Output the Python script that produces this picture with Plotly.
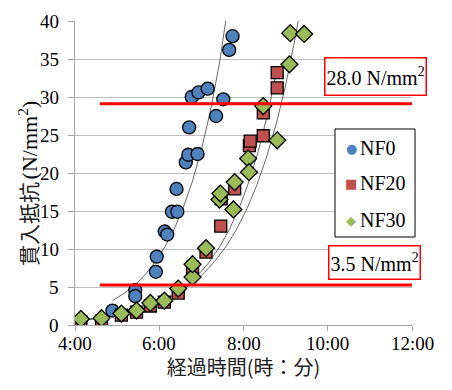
import numpy as np
import plotly.graph_objects as go

# ---- data (elapsed time in decimal hours, penetration resistance N/mm2) ----
nf0_t = [4.89, 5.43, 5.43, 5.92, 5.94, 6.13, 6.19, 6.30, 6.43, 6.41, 6.63, 6.69, 6.91,
         6.71, 6.77, 6.93, 7.15, 7.35, 7.52, 7.66, 7.74]
nf0_v = [1.9, 4.6, 3.8, 7.0, 9.0, 12.3, 11.9, 14.9, 14.9, 17.9, 21.4, 22.4, 22.5,
         26.0, 30.0, 30.6, 31.1, 27.5, 29.7, 36.2, 38.0]

nf20_t = [4.14, 4.63, 5.10, 5.46, 5.79, 6.12, 6.45, 6.79, 7.11, 7.46, 7.47, 7.79,
          8.14, 8.16, 8.47, 8.47, 8.80, 8.80]
nf20_v = [0.4, 0.5, 1.3, 1.7, 2.5, 3.0, 4.2, 7.6, 9.6, 13.0, 16.6, 17.9,
          23.6, 24.2, 24.9, 27.9, 31.2, 33.2]

nf30_t = [4.14, 4.63, 5.10, 5.46, 5.79, 6.12, 6.45, 6.79, 6.79, 7.11, 7.43, 7.45,
          7.76, 7.79, 8.11, 8.13, 8.47, 8.80, 9.09, 9.11, 9.44]
nf30_v = [0.8, 0.9, 1.5, 1.9, 2.9, 3.2, 4.8, 6.3, 8.0, 10.1, 16.5, 17.3,
          15.2, 18.8, 21.9, 20.1, 28.8, 24.3, 34.3, 38.4, 38.3]

series_names = ["NF0", "NF20", "NF30"]
series_colors = ["#4F81BD", "#C0504D", "#9BBB59"]
legend_glyphs = ["●", "■", "◆"]
# exponential trendline coefficients y = a * exp(b * t)
trend_a = [0.0334, 0.01575, 0.02626]
trend_b = [0.934, 0.872, 0.788]

x_ticks = [4, 6, 8, 10, 12]
x_ticktext = ["4:00", "6:00", "8:00", "10:00", "12:00"]
y_ticks = [0, 5, 10, 15, 20, 25, 30, 35, 40]

# threshold lines (drawn position) and their labels
upper_line_v = 29.1
lower_line_v = 5.26
line_t_start = 4.59
line_t_end = 12.0
upper_label = "28.0 N/mm<sup>2</sup>"
lower_label = "3.5 N/mm<sup>2</sup>"

serif = "Liberation Serif"
cjk = "Noto Sans CJK JP"

fig = go.Figure()

styles = [
    dict(symbol="circle", size=13),
    dict(symbol="square", size=12),
    dict(symbol="diamond", size=13),
]
data = [(nf0_t, nf0_v), (nf20_t, nf20_v), (nf30_t, nf30_v)]

for (t, v), a, b in zip(data, trend_a, trend_b):
    tt = np.linspace(min(t), max(t), 200)
    fig.add_trace(go.Scatter(x=tt, y=a * np.exp(b * tt), mode="lines",
                             line=dict(color="#404040", width=0.8),
                             showlegend=False, hoverinfo="skip"))

for name, (t, v), st, col in zip(series_names, data, styles, series_colors):
    fig.add_trace(go.Scatter(x=t, y=v, mode="markers", name=name, showlegend=False,
                             marker=dict(symbol=st["symbol"], color=col, size=st["size"],
                                         line=dict(color="black", width=1.3))))

for yv in (upper_line_v, lower_line_v):
    fig.add_shape(type="line", xref="x", yref="y", x0=line_t_start, x1=line_t_end,
                  y0=yv, y1=yv, line=dict(color="#FF0000", width=3))

fig.add_annotation(x=11.13, y=32.7, xref="x", yref="y", text=upper_label, showarrow=False,
                   font=dict(family=serif, size=20, color="black"),
                   bordercolor="#FF0000", borderwidth=1.5, borderpad=1, height=34,
                   bgcolor="white")
fig.add_annotation(x=11.10, y=8.29, xref="x", yref="y", text=lower_label, showarrow=False,
                   font=dict(family=serif, size=20, color="black"),
                   bordercolor="#FF0000", borderwidth=1.5, borderpad=1, height=30,
                   bgcolor="white")

# tick labels (drawn as text at the axis tick values)
for val, txt in zip(x_ticks, x_ticktext):
    fig.add_annotation(x=val, y=0, xref="x", yref="paper", text="<span>" + txt + "</span>",
                       showarrow=False, xanchor="center", yanchor="top", yshift=-6,
                       font=dict(family=serif, size=19, color="black"))
for val in y_ticks:
    fig.add_annotation(x=0, y=val, xref="paper", yref="y", text="<span>" + str(val) + "</span>",
                       showarrow=False, xanchor="right", yanchor="middle", xshift=-14,
                       font=dict(family=serif, size=19, color="black"))

# y-axis title (rotated), Japanese part and unit part
fig.add_annotation(x=-0.14, y=0.332, xref="paper", yref="paper", textangle=-90,
                   xanchor="center", yanchor="middle", text="貫入抵抗", showarrow=False,
                   font=dict(family=cjk, size=21, color="#222222"))
fig.add_annotation(x=-0.14, y=0.61, xref="paper", yref="paper", textangle=-90,
                   xanchor="center", yanchor="middle", text="(N/mm<sup>2</sup>)", showarrow=False,
                   font=dict(family=serif, size=22, color="black"))

# legend (box, keys and names)
fig.add_shape(type="rect", xref="paper", yref="paper", x0=0.7715, x1=1.009, y0=0.2895, y1=0.6447,
              line=dict(color="black", width=1), fillcolor="white", layer="above")
legend_rows = [0.582, 0.467, 0.345]
for name, col, glyph, yr in zip(series_names, series_colors, legend_glyphs, legend_rows):
    fig.add_annotation(x=0.819, y=yr, xref="paper", yref="paper", text=glyph, showarrow=False,
                       xanchor="center", yanchor="middle",
                       font=dict(family="DejaVu Sans", size=13, color=col))
    fig.add_annotation(x=0.840, y=yr, xref="paper", yref="paper", text="<span>" + name + "</span>",
                       showarrow=False, xanchor="left", yanchor="middle",
                       font=dict(family=serif, size=20, color="black"))

fig.update_layout(
    width=452, height=390,
    margin=dict(l=75, r=40, t=21, b=65),
    paper_bgcolor="white", plot_bgcolor="white",
    font=dict(family=serif, size=19, color="black"),
    showlegend=False,
    xaxis=dict(range=[4, 12], tickvals=x_ticks, showticklabels=False,
               showgrid=False, zeroline=False, showline=True, linecolor="#A6A6A6",
               ticks="outside", ticklen=5, tickcolor="#A6A6A6",
               title=dict(text="経過時間(時：分)", font=dict(family=cjk, size=20, color="#222222"),
                          standoff=30)),
    yaxis=dict(range=[0, 40], tickvals=y_ticks, showticklabels=False,
               showgrid=True, gridcolor="#BFBFBF", zeroline=False,
               showline=True, linecolor="#A6A6A6", ticks="outside", ticklen=6,
               tickcolor="#A6A6A6"),
)

fig.write_html("out.html")
